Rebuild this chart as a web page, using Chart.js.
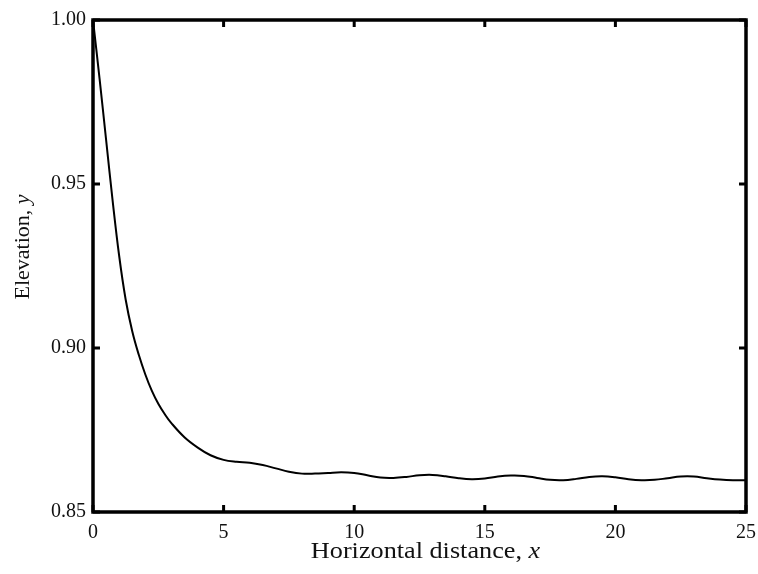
<!DOCTYPE html>
<html>
<head>
<meta charset="utf-8">
<script src="https://cdn.jsdelivr.net/npm/chart.js@4.4.1/dist/chart.umd.min.js"></script>
<style>
  html, body { margin: 0; padding: 0; background: #fff; }
  #wrap { width: 758px; height: 574px; }
</style>
</head>
<body>
<div id="wrap"><canvas id="elevation"></canvas></div>
<script>
// values
const distance = [0, 0.25, 0.5, 0.75, 1, 1.25, 1.5, 1.75, 2, 2.25, 2.5, 2.75, 3, 3.5, 4, 4.5,
  5, 5.5, 6, 6.5, 7, 7.5, 8, 8.5, 9, 9.5, 10, 10.5, 11, 11.5, 12, 12.5, 13, 13.5, 14, 14.5,
  15, 15.5, 16, 16.5, 17, 17.5, 18, 18.5, 19, 19.5, 20, 20.5, 21, 21.5, 22, 22.5, 23, 23.5,
  24, 24.5, 25];
const elevation = [1.000, 0.9822, 0.9636, 0.9450, 0.9282, 0.9148, 0.9052, 0.8980, 0.8920, 0.8870, 0.8830, 0.8798, 0.8771, 0.8728, 0.8697, 0.8673,
  0.8659, 0.8653, 0.8650, 0.8643, 0.8633, 0.8623, 0.8617, 0.8617, 0.8619, 0.8621, 0.8619, 0.8612, 0.8605, 0.8604, 0.8607, 0.8612, 0.8613, 0.8609, 0.8603, 0.8600,
  0.8602, 0.8608, 0.8611, 0.8610, 0.8604, 0.8598, 0.8597, 0.8601, 0.8607, 0.8609, 0.8606, 0.8600, 0.8597, 0.8598, 0.8603, 0.8608, 0.8608, 0.8603,
  0.8599, 0.8597, 0.8597];
const xTicks = [0, 5, 10, 15, 20, 25];
const yTicks = [0.85, 0.90, 0.95, 1.00];
const xTitle = ["Horizontal distance, ", "x"];
const yTitle = ["Elevation, ", "y"];

const serif = '"Liberation Serif", "Times New Roman", serif';

function drawParts(ctx, parts, size) {
  const fonts = [size + 'px ' + serif, 'italic ' + size + 'px ' + serif];
  let w = 0;
  parts.forEach((p, i) => { ctx.font = fonts[i]; w += ctx.measureText(p).width; });
  let x = -w / 2;
  parts.forEach((p, i) => {
    ctx.font = fonts[i];
    ctx.fillText(p, x, 0);
    x += ctx.measureText(p).width;
  });
}

// box round the plot, ticks pointing inward, and the axis titles
const frame = {
  id: 'frame',
  afterDatasetsDraw(chart) {
    const { ctx, chartArea: a, scales } = chart;
    ctx.save();
    ctx.strokeStyle = '#000';
    ctx.lineWidth = 3.5;
    ctx.strokeRect(a.left, a.top, a.right - a.left, a.bottom - a.top);
    ctx.lineWidth = 3;
    ctx.beginPath();
    xTicks.forEach(v => {
      const px = scales.x.getPixelForValue(v);
      ctx.moveTo(px, a.bottom); ctx.lineTo(px, a.bottom - 7);
      ctx.moveTo(px, a.top); ctx.lineTo(px, a.top + 7);
    });
    yTicks.forEach(v => {
      const py = scales.y.getPixelForValue(v);
      ctx.moveTo(a.left, py); ctx.lineTo(a.left + 7, py);
      ctx.moveTo(a.right, py); ctx.lineTo(a.right - 7, py);
    });
    ctx.stroke();

    ctx.fillStyle = '#111';
    ctx.textBaseline = 'alphabetic';
    ctx.textAlign = 'left';
    // x title
    ctx.save();
    ctx.translate((a.left + a.right) / 2 + 6, a.bottom + 46);
    ctx.scale(1.14, 1);
    drawParts(ctx, xTitle, 23);
    ctx.restore();
    // y title
    ctx.save();
    ctx.translate(29, (a.top + a.bottom) / 2 - 19);
    ctx.rotate(-Math.PI / 2);
    drawParts(ctx, yTitle, 22);
    ctx.restore();
    ctx.restore();
  }
};

new Chart(document.getElementById('elevation'), {
  type: 'line',
  data: {
    datasets: [{
      data: distance.map((x, i) => ({ x: x, y: elevation[i] })),
      borderColor: '#000',
      borderWidth: 2,
      pointRadius: 0,
      tension: 0.4,
      fill: false,
    }],
  },
  options: {
    responsive: true,
    maintainAspectRatio: false,
    animation: false,
    layout: { padding: { left: 0, right: 12, top: 20, bottom: 0 } },
    plugins: { legend: { display: false }, tooltip: { enabled: false } },
    scales: {
      x: {
        type: 'linear',
        min: 0,
        max: 25,
        afterBuildTicks: (s) => { s.ticks = xTicks.map(v => ({ value: v })); },
        afterFit: (s) => { s.height = 62; s.paddingLeft = 0; s.paddingRight = 0; },
        grid: { display: false, drawTicks: false, tickLength: 0 },
        border: { display: false },
        ticks: { color: '#111', padding: 9, maxRotation: 0, font: { family: serif, size: 20 } },
      },
      y: {
        min: 0.85,
        max: 1.0,
        afterBuildTicks: (s) => { s.ticks = yTicks.map(v => ({ value: v })); },
        afterFit: (s) => { s.width = 93; s.paddingTop = 0; s.paddingBottom = 0; },
        grid: { display: false, drawTicks: false, tickLength: 0 },
        border: { display: false },
        ticks: {
          color: '#111', padding: 7, font: { family: serif, size: 20 },
          callback: (v) => Number(v).toFixed(2),
        },
      },
    },
  },
  plugins: [frame],
});
</script>
</body>
</html>
